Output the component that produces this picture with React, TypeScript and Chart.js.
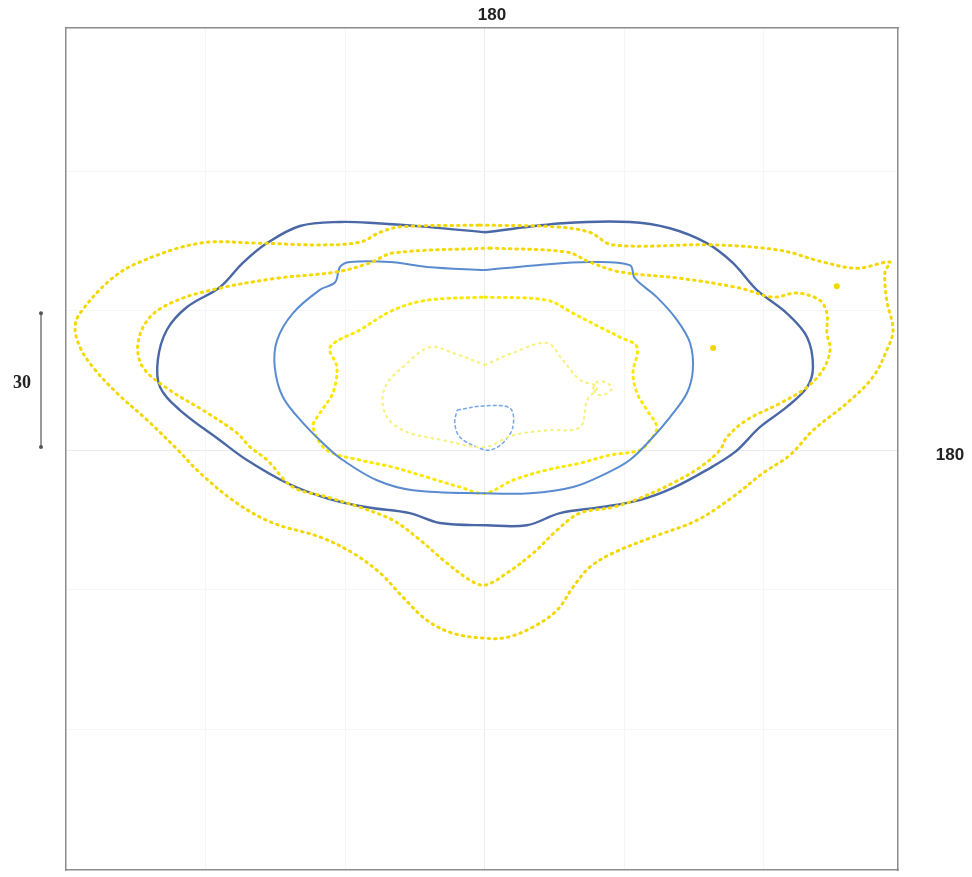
import React, { useEffect, useRef } from "react";
import { Chart, registerables } from "chart.js";

Chart.register(...registerables);

type P = { x: number; y: number };
const pts = (a: number[][]): P[] => {
  const r = a.map(([x, y]) => ({ x, y }));
  r.push({ ...r[0] });
  return r;
};

// Isopters, degrees from fixation (x: horizontal, y: vertical)
const outerYellow = [
  [-1.1, 50.0], [16.0, 49.6], [23.3, 48.4], [28.4, 45.6], [50.7, 45.6], [65.6, 44.4], [75.1, 41.8],
  [82.7, 40.4], [90.0, 41.8], [88.9, 39.6], [89.3, 33.3], [90.7, 26.7], [89.3, 22.2], [86.2, 16.2],
  [80.4, 10.4], [72.9, 4.4], [67.8, -1.1], [61.8, -5.1], [55.1, -10.4], [47.1, -15.6], [37.3, -19.3],
  [28.4, -22.9], [23.3, -26.0], [19.6, -30.4], [16.0, -35.6], [10.7, -39.3], [4.9, -41.6], [0, -41.8],
  [-7.1, -40.7], [-12.9, -37.8], [-18.2, -32.7], [-23.3, -27.3], [-29.3, -22.9], [-36.7, -19.3],
  [-47.1, -16.2], [-55.1, -11.8], [-63.3, -5.1], [-68.2, 0], [-75.1, 6.7], [-81.8, 12.7], [-87.1, 18.4],
  [-90.0, 22.9], [-91.1, 27.3], [-90.0, 30.4], [-83.3, 37.8], [-76.7, 41.8], [-63.3, 46.0], [-50.7, 46.0],
  [-36.7, 45.6], [-27.8, 46.2], [-23.3, 48.4], [-18.9, 49.6],
];
const middleYellow = [
  [1.1, 44.9], [18.2, 44.0], [23.3, 41.8], [30.0, 39.6], [43.3, 38.2], [56.7, 36.0], [64.0, 34.0],
  [69.3, 34.9], [74.4, 33.3], [76.0, 30.4], [76.0, 26.0], [76.7, 22.2], [75.1, 17.8], [71.6, 14.0],
  [65.6, 10.4], [58.2, 6.7], [53.8, 2.9], [52.2, 0], [47.8, -3.8], [41.8, -7.3], [35.1, -10.4],
  [28.4, -12.7], [21.1, -14.0], [16.0, -17.8], [10.7, -22.9], [4.9, -27.3], [0, -30.0], [-3.3, -28.9],
  [-9.3, -24.4], [-14.4, -20.0], [-20.4, -15.6], [-27.8, -12.7], [-35.1, -10.4], [-42.7, -8.2],
  [-48.4, -2.2], [-52.2, 0.7], [-55.1, 3.8], [-62.7, 8.9], [-70.0, 13.3], [-76.0, 18.4], [-77.1, 23.8],
  [-74.4, 29.6], [-68.4, 33.3], [-58.9, 36.0], [-46.2, 38.2], [-32.9, 39.6], [-25.6, 41.6], [-20.4, 43.8],
];
const outerBlue = [
  [0, 48.4], [17.3, 50.4], [32.2, 50.7], [41.1, 49.3], [49.3, 46.0], [55.1, 41.6], [60.4, 35.6],
  [67.1, 30.4], [71.6, 25.1], [72.9, 18.4], [71.6, 14.0], [67.1, 9.6], [61.1, 5.1], [55.6, -0.4],
  [49.3, -4.4], [41.8, -8.4], [34.4, -11.1], [25.6, -12.7], [16.7, -14.0], [9.3, -16.7], [0.4, -16.7],
  [-10.0, -16.2], [-16.7, -14.0], [-26.2, -12.7], [-35.1, -10.7], [-44.0, -7.3], [-52.9, -2.2],
  [-58.9, 2.2], [-67.8, 8.9], [-72.2, 14.0], [-72.7, 20.0], [-70.7, 26.7], [-66.2, 31.8], [-58.9, 36.2],
  [-53.8, 41.6], [-48.4, 46.0], [-41.1, 49.8], [-32.2, 50.7], [-24.0, 50.4], [-12.9, 49.6],
];
const innerBlue = [
  [0, 40.0], [11.6, 41.1], [23.3, 41.8], [32.2, 41.1], [33.3, 38.2], [38.2, 34.0], [42.7, 28.9],
  [45.6, 23.8], [46.2, 17.8], [44.9, 12.7], [41.1, 7.3], [36.7, 2.2], [32.2, -2.2], [27.1, -5.1],
  [19.6, -8.2], [10.0, -9.6], [0, -9.6], [-16.0, -8.9], [-24.0, -6.7], [-31.6, -2.2], [-35.1, 0.7],
  [-40.4, 6.0], [-44.9, 11.8], [-46.7, 18.4], [-46.2, 24.4], [-42.7, 30.4], [-36.7, 35.6], [-33.3, 37.3],
  [-32.2, 40.7], [-30.0, 41.8], [-21.1, 41.8], [-12.9, 40.7],
];
const innerYellow = [
  [0, 34.0], [13.8, 33.3], [19.6, 30.4], [25.6, 27.3], [30.0, 25.1], [33.8, 22.9], [32.9, 17.1],
  [33.8, 12.7], [36.0, 8.9], [38.2, 5.1], [36.7, 2.2], [34.4, 0], [27.8, -1.1], [21.1, -2.9],
  [13.8, -4.4], [6.2, -6.7], [0, -9.6], [-5.6, -8.2], [-12.9, -6.0], [-20.4, -3.8], [-27.8, -2.2],
  [-35.1, 0], [-38.2, 5.1], [-36.7, 8.2], [-33.8, 12.7], [-32.9, 18.4], [-34.4, 22.9], [-27.8, 26.7],
  [-20.4, 31.1], [-12.9, 33.3],
];
const paleYellow = [
  [0, 18.9], [6.2, 21.6], [13.8, 23.8], [17.3, 20.0], [21.1, 15.6], [24.9, 14.0], [22.7, 11.1],
  [21.1, 5.1], [13.8, 4.4], [6.2, 3.3], [0, 0.7], [-9.3, 2.2], [-18.2, 4.4], [-22.2, 8.2],
  [-22.2, 14.0], [-17.3, 19.3], [-12.2, 22.9], [-7.1, 21.6],
];
const paleLoop = [
  [24.0, 13.8], [24.9, 15.1], [26.7, 15.1], [28.2, 13.8], [26.7, 12.4], [24.9, 12.4],
];
const centralBlue = [
  [-6.2, 8.9], [-0.4, 9.8], [5.6, 9.3], [6.2, 5.1], [4.0, 1.6], [1.1, 0], [-1.8, 0.7], [-5.6, 2.9], [-6.7, 6.0],
];
const isolatedSpots = [
  [78.2, 36.4], [50.7, 22.7],
];

const gridTicks = [-62, -31, 0, 31, 62];
const topLabel = "180";
const rightLabel = "180";
const scaleLabel = "30";
const scaleBar = [0.7, 30.4];

export default function App() {
  const ref = useRef<HTMLCanvasElement | null>(null);

  useEffect(() => {
    if (!ref.current) return;
    const dotted = (color: string, w = 3) => ({
      borderColor: color,
      backgroundColor: color,
      borderWidth: w,
      borderDash: [1.5, 5],
      borderCapStyle: "round" as const,
      pointRadius: 0,
      showLine: true,
      tension: 0.35,
      fill: false,
    });
    const solid = (color: string, w = 2.2) => ({
      borderColor: color,
      backgroundColor: color,
      borderWidth: w,
      pointRadius: 0,
      showLine: true,
      tension: 0.35,
      fill: false,
    });

    const overlay = {
      id: "overlay",
      afterDraw(chart: any) {
        const { ctx, scales } = chart;
        const ys = scales.y;
        ctx.save();
        ctx.fillStyle = "#222";
        ctx.textAlign = "center";
        ctx.textBaseline = "middle";
        ctx.font = "bold 17px 'Liberation Sans Narrow', 'Liberation Sans', Arial, sans-serif";
        ctx.fillText(topLabel, 492, 15);
        ctx.fillText(rightLabel, 950, 455);
        ctx.font = "bold 18px 'Liberation Serif', serif";
        ctx.fillText(scaleLabel, 22, 383);
        const y1 = ys.getPixelForValue(scaleBar[0]);
        const y2 = ys.getPixelForValue(scaleBar[1]);
        ctx.strokeStyle = "#777";
        ctx.lineWidth = 1.5;
        ctx.beginPath();
        ctx.moveTo(41, y1);
        ctx.lineTo(41, y2);
        ctx.stroke();
        ctx.fillStyle = "#555";
        ctx.beginPath();
        ctx.arc(41, y1, 2, 0, Math.PI * 2);
        ctx.arc(41, y2, 2, 0, Math.PI * 2);
        ctx.fill();
        ctx.restore();
      },
    };

    const axisBase = {
      type: "linear" as const,
      ticks: { display: false },
      border: { display: true, color: "#8c8c8c", width: 1.5 },
    };
    const gridColor = (c: any) => (c.tick && c.tick.value === 0 ? "#ebebeb" : "#f6f6f6");

    const chart = new Chart(ref.current, {
      type: "scatter",
      data: {
        datasets: [
          { data: pts(outerYellow), ...dotted("#f3d700") },
          { data: pts(middleYellow), ...dotted("#f5d900") },
          { data: pts(outerBlue), ...solid("#4a68a6", 2.4) },
          { data: pts(innerBlue), ...solid("#5a8bd0", 2) },
          { data: pts(innerYellow), ...dotted("#fbe800") },
          { data: pts(paleYellow), ...dotted("#f6f27a", 2.2) },
          { data: pts(paleLoop), ...dotted("#f6f27a", 2.2) },
          { data: pts(centralBlue), ...solid("#78a6ea", 1.5), borderDash: [4, 2] },
          {
            data: isolatedSpots.map(([x, y]) => ({ x, y })),
            showLine: false,
            pointRadius: 3,
            pointBackgroundColor: "#f3d700",
            pointBorderWidth: 0,
          },
        ] as any,
      },
      options: {
        animation: false,
        responsive: true,
        maintainAspectRatio: false,
        layout: { padding: { left: 66, top: 28, right: 74, bottom: 7 } },
        plugins: { legend: { display: false }, tooltip: { enabled: false } },
        scales: {
          x: {
            ...axisBase,
            position: "bottom",
            min: -93.1,
            max: 91.8,
            afterBuildTicks: (s: any) => { s.ticks = gridTicks.map((v) => ({ value: v })); },
            grid: { color: gridColor, drawTicks: false, lineWidth: 1 },
          },
          y: {
            ...axisBase,
            position: "left",
            min: -93.3,
            max: 93.8,
            afterBuildTicks: (s: any) => { s.ticks = gridTicks.map((v) => ({ value: v })); },
            grid: { color: gridColor, drawTicks: false, lineWidth: 1 },
          },
          x2: {
            ...axisBase,
            position: "top",
            min: -93.1,
            max: 91.8,
            grid: { display: false, drawTicks: false },
          },
          y2: {
            ...axisBase,
            position: "right",
            min: -93.3,
            max: 93.8,
            grid: { display: false, drawTicks: false },
          },
        } as any,
      },
      plugins: [overlay],
    });
    return () => chart.destroy();
  }, []);

  return (
    <div style={{ position: "absolute", left: 0, top: 0, width: 972, height: 877, background: "#fff" }}>
      <canvas ref={ref} />
    </div>
  );
}
